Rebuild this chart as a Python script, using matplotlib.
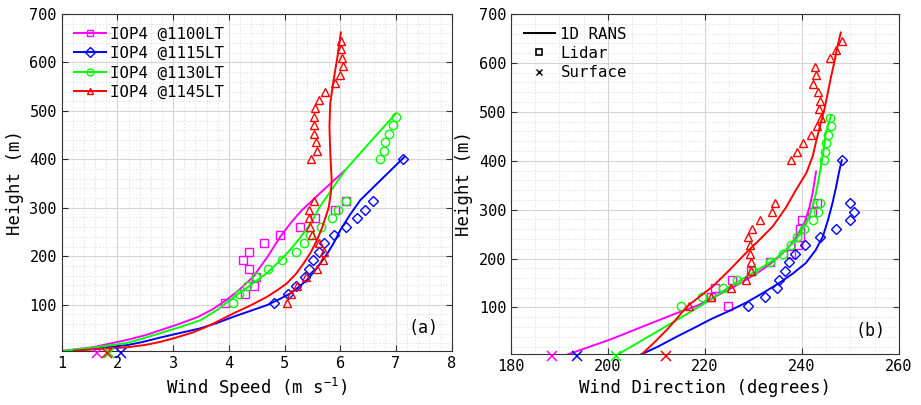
import matplotlib
matplotlib.use("Agg")
import matplotlib.pyplot as plt
from matplotlib.lines import Line2D
from matplotlib.ticker import MultipleLocator

plt.rcParams['font.family'] = ['DejaVu Sans Mono']
plt.rcParams['mathtext.fontset'] = 'custom'
plt.rcParams['mathtext.rm'] = 'DejaVu Sans Mono'
plt.rcParams['mathtext.default'] = 'rm'

# ---- data ----
labels = ['IOP4 @1100LT', 'IOP4 @1115LT', 'IOP4 @1130LT', 'IOP4 @1145LT']
colors = ['#ff00ff', '#0000ff', '#00ff00', '#ff0000']
markers = ['s', 'D', 'o', '^']

lidar_low = [104, 122, 139, 157, 174, 192, 209, 227, 244, 261, 279, 296, 314]

# lidar heights per case
h_1100 = lidar_low
h_1115 = lidar_low + [401]
h_1130 = lidar_low + [401, 418, 436, 453, 470, 488]
h_1145 = lidar_low + [401, 418, 436, 453, 470, 488, 505, 523, 540, 557, 575, 592, 610, 627, 645]

# lidar wind speed (m/s)
ws_1100 = [3.93, 4.29, 4.45, 4.49, 4.37, 4.25, 4.37, 4.63, 4.92, 5.28, 5.55, 5.91, 6.10]
ws_1115 = [4.81, 5.07, 5.21, 5.37, 5.43, 5.51, 5.61, 5.70, 5.89, 6.10, 6.30, 6.45, 6.58, 7.13]
ws_1130 = [4.07, 4.19, 4.33, 4.48, 4.71, 4.95, 5.21, 5.35, 5.45, 5.65, 5.85, 5.95, 6.10,
           6.71, 6.79, 6.81, 6.87, 6.94, 7.00]
ws_1145 = [5.05, 5.12, 5.22, 5.39, 5.59, 5.69, 5.70, 5.61, 5.49, 5.45, 5.43, 5.43, 5.53,
           5.48, 5.58, 5.56, 5.53, 5.52, 5.52, 5.55, 5.61, 5.73, 5.91, 6.00, 6.04, 6.03, 6.01, 6.01]

# lidar wind direction (deg)
wd_1100 = [224.8, 221.2, 222.0, 225.5, 229.4, 233.4, 237.8, 239.1, 239.6, 239.5, 240.0, 242.1, 243.0]
wd_1115 = [228.8, 232.3, 234.8, 235.2, 236.6, 237.4, 238.6, 240.6, 243.7, 247.0, 249.9, 250.7, 249.9, 248.2]
wd_1130 = [215.1, 219.4, 223.8, 226.6, 229.9, 233.4, 236.0, 237.8, 238.9, 240.5, 242.2, 243.2, 243.7,
           244.6, 244.8, 245.0, 245.3, 245.9, 245.8]
wd_1145 = [216.7, 221.3, 225.4, 228.5, 229.5, 229.5, 229.2, 229.3, 228.8, 229.7, 231.4, 233.8, 234.5,
           237.8, 239.0, 240.3, 241.9, 243.0, 243.9, 243.6, 243.7, 243.4, 242.3, 242.8, 242.6, 245.8, 247.0, 248.3]

# surface station
surf_h = 1
surf_ws = [1.64, 2.06, 1.84, 1.82]
surf_wd = [188.4, 193.6, 201.7, 212.0]

# 1D RANS profiles: wind speed
rans_ws_h = [
    [5, 12, 27, 37, 47, 60, 75, 90, 110, 130, 158, 200, 240, 270, 295, 335, 377],
    [5, 10, 16.5, 23, 32, 41, 51, 62, 75, 87, 99, 111, 123, 137, 151, 168, 185, 206, 227, 254, 285,
     316, 360, 405],
    [5, 12, 21, 30, 41, 54, 68, 90, 115, 140, 165, 189, 213, 237, 260, 280, 300, 320, 340, 378, 435, 495],
    [5, 8, 12, 17, 23, 32, 43, 52, 61, 82, 98, 116, 130, 144, 163, 185, 208, 233, 258, 282, 300, 330,
     357, 390, 430, 468, 516, 564, 605, 662],
]
rans_ws = [
    [1.03, 1.55, 2.16, 2.50, 2.76, 3.10, 3.45, 3.70, 3.96, 4.18, 4.44, 4.70, 4.92, 5.12, 5.31, 5.68, 6.08],
    [1.12, 1.60, 2.17, 2.45, 2.76, 3.10, 3.48, 3.78, 4.08, 4.38, 4.68, 4.90, 5.10, 5.26, 5.40, 5.53, 5.64,
     5.77, 5.88, 6.00, 6.17, 6.36, 6.75, 7.15],
    [1.06, 1.60, 2.17, 2.45, 2.76, 3.13, 3.49, 3.80, 4.08, 4.38, 4.68, 4.90, 5.10, 5.27, 5.42, 5.53, 5.62,
     5.74, 5.86, 6.09, 6.53, 7.00],
    [1.22, 1.60, 2.17, 2.50, 2.76, 3.05, 3.36, 3.55, 3.72, 4.08, 4.38, 4.68, 4.87, 5.04, 5.20, 5.34, 5.47,
     5.58, 5.67, 5.74, 5.79, 5.83, 5.845, 5.83, 5.815, 5.805, 5.82, 5.88, 5.94, 6.01],
]

# 1D RANS profiles: wind direction
rans_wd_h = [
    [2, 35, 62, 89, 103, 115, 127, 142, 157, 172, 188, 206, 225, 248, 273, 303, 334, 378],
    [2, 20, 41, 59, 77, 93, 110, 130, 150, 170, 191, 217, 245, 280, 314, 345, 375, 401],
    [2, 35, 75, 116, 130, 143, 157, 171, 186, 201, 220, 239, 262, 286, 310, 334, 360, 388, 429, 457, 492],
    [2, 28, 55, 80, 103, 123, 143, 178, 212, 240, 266, 303, 341, 375, 409, 443, 474, 504, 538, 572, 603,
     633, 662],
]
rans_wd = [
    [191.1, 200.6, 207.4, 214.3, 218.2, 220.8, 223.0, 225.9, 228.5, 231.0, 233.3, 235.5, 237.4, 239.1,
     240.5, 241.5, 242.2, 242.9],
    [206.4, 210.3, 214.3, 217.9, 221.4, 225.0, 228.5, 232.0, 235.3, 238.2, 240.8, 242.8, 244.3, 245.4,
     246.3, 247.0, 247.6, 248.2],
    [201.7, 207.4, 214.3, 221.2, 223.2, 225.1, 227.5, 229.9, 232.4, 234.7, 236.9, 238.8, 240.3, 241.5,
     242.3, 242.9, 243.4, 243.9, 244.6, 244.9, 246.0],
    [206.7, 209.5, 212.2, 214.4, 216.4, 219.0, 221.6, 225.2, 228.5, 231.4, 234.0, 236.6, 238.8, 240.9,
     242.2, 243.0, 243.8, 244.6, 245.3, 246.0, 246.7, 247.3, 248.0],
]

lid_h = [h_1100, h_1115, h_1130, h_1145]
lid_ws = [ws_1100, ws_1115, ws_1130, ws_1145]
lid_wd = [wd_1100, wd_1115, wd_1130, wd_1145]

fig = plt.figure(figsize=(9.21, 4.05), dpi=100)
ax1 = fig.add_axes([0.067, 0.134, 0.4235, 0.8314])
ax2 = fig.add_axes([0.5548, 0.126, 0.4213, 0.8395])


def style_axes(ax):
    ax.set_ylim(5, 700)
    ax.yaxis.set_major_locator(MultipleLocator(100))
    ax.yaxis.set_minor_locator(MultipleLocator(20))
    ax.grid(which='major', color='#d4d4d4', lw=0.8)
    ax.grid(which='minor', color='#e2e2e2', lw=0.6, linestyle=(0, (2, 2)))
    ax.set_axisbelow(True)
    ax.tick_params(which='major', direction='in', length=4, top=True, right=True,
                   labelsize=11, color='#333333', width=0.8)
    ax.tick_params(which='minor', length=0)
    for s in ax.spines.values():
        s.set_color('#333333')
        s.set_linewidth(0.8)
    ax.set_ylabel('Height (m)', fontsize=12.5)


for i in range(4):
    ms = 6 if markers[i] != 'D' else 5
    ax1.plot(rans_ws[i], rans_ws_h[i], color=colors[i], lw=1.4, solid_joinstyle='round')
    ax1.plot(lid_ws[i], lid_h[i], ls='none', marker=markers[i], mfc='none', mec=colors[i], ms=ms, mew=1.0)
    ax1.plot(surf_ws[i], surf_h, ls='none', marker='x', color=colors[i], ms=7, mew=1.1,
             clip_on=False, zorder=5)

    ax2.plot(rans_wd[i], rans_wd_h[i], color=colors[i], lw=1.4, solid_joinstyle='round')
    ax2.plot(lid_wd[i], lid_h[i], ls='none', marker=markers[i], mfc='none', mec=colors[i], ms=ms, mew=1.0)
    ax2.plot(surf_wd[i], surf_h, ls='none', marker='x', color=colors[i], ms=7, mew=1.1,
             clip_on=False, zorder=5)

style_axes(ax1)
ax1.set_xlim(1, 8)
ax1.xaxis.set_major_locator(MultipleLocator(1))
ax1.xaxis.set_minor_locator(MultipleLocator(0.2))
ax1.set_xlabel('Wind Speed (m s$^{-1}$)', fontsize=12.5)
ax1.text(0.965, 0.04, '(a)', transform=ax1.transAxes, ha='right', va='bottom', fontsize=12)

style_axes(ax2)
ax2.set_xlim(180, 260)
ax2.xaxis.set_major_locator(MultipleLocator(20))
ax2.xaxis.set_minor_locator(MultipleLocator(5))
ax2.set_xlabel('Wind Direction (degrees)', fontsize=12.5)
ax2.text(0.965, 0.04, '(b)', transform=ax2.transAxes, ha='right', va='bottom', fontsize=12)

h1 = [Line2D([], [], color=colors[i], marker=markers[i], mfc='none', mec=colors[i], ms=5, lw=1.4)
      for i in range(4)]
ax1.legend(h1, labels, loc='upper left', frameon=False, fontsize=11.3, handlelength=2.0,
           labelspacing=0.28, handletextpad=0.25, borderaxespad=0.4)

h2 = [Line2D([], [], color='k', lw=1.4),
      Line2D([], [], color='k', ls='none', marker='s', mfc='none', ms=4, mew=1.2),
      Line2D([], [], color='k', ls='none', marker='x', ms=4, mew=1.0)]
ax2.legend(h2, ['1D RANS', 'Lidar', 'Surface'], loc='upper left', frameon=False, fontsize=11.3,
           handlelength=2.0, labelspacing=0.28, handletextpad=0.35, borderaxespad=0.4)

fig.savefig('out.png', dpi=100)
